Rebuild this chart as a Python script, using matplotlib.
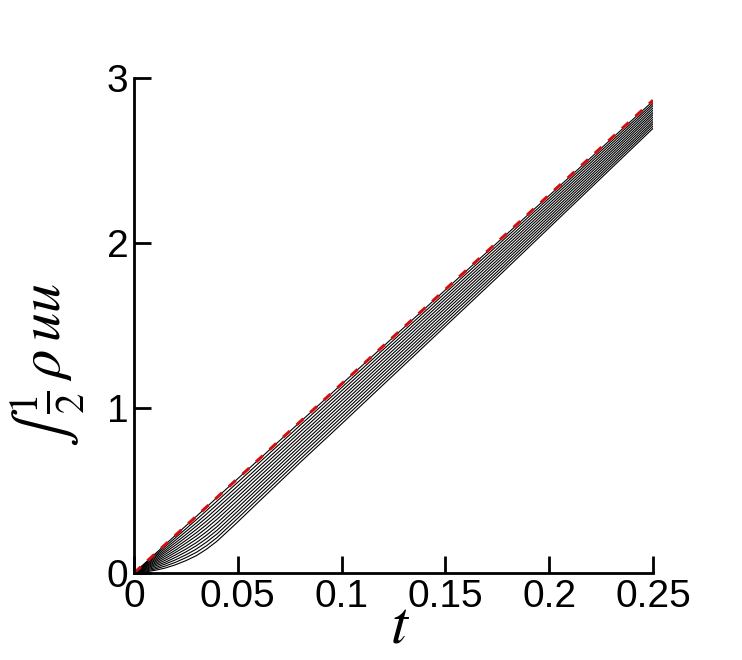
"""
Kinetic energy growth curves: integral of 1/2 rho u u versus time.
Writes out.png.
"""

import matplotlib.pyplot as plt

plt.rcParams["mathtext.fontset"] = "stix"

# sample times
t_vals = [0, 0.005, 0.01, 0.015, 0.02, 0.025, 0.03, 0.035, 0.04, 0.05,
          0.06, 0.08, 0.1, 0.125, 0.15, 0.175, 0.2, 0.225, 0.25]

# black curves, top to bottom
ke_01 = [0, 0.057, 0.114, 0.172, 0.229, 0.286, 0.343, 0.400, 0.458, 0.572, 0.686, 0.915, 1.144, 1.430, 1.716, 2.002, 2.288, 2.574, 2.860]
ke_02 = [0, 0.053, 0.106, 0.160, 0.214, 0.268, 0.323, 0.379, 0.436, 0.550, 0.665, 0.895, 1.124, 1.411, 1.698, 1.985, 2.272, 2.559, 2.846]
ke_03 = [0, 0.049, 0.098, 0.148, 0.199, 0.251, 0.303, 0.358, 0.414, 0.528, 0.643, 0.874, 1.104, 1.392, 1.679, 1.967, 2.256, 2.544, 2.833]
ke_04 = [0, 0.044, 0.090, 0.136, 0.184, 0.233, 0.284, 0.336, 0.392, 0.506, 0.622, 0.854, 1.084, 1.373, 1.661, 1.950, 2.239, 2.529, 2.819]
ke_05 = [0, 0.040, 0.081, 0.125, 0.169, 0.216, 0.264, 0.315, 0.370, 0.485, 0.601, 0.833, 1.064, 1.353, 1.643, 1.932, 2.223, 2.514, 2.805]
ke_06 = [0, 0.036, 0.073, 0.113, 0.154, 0.198, 0.244, 0.294, 0.348, 0.463, 0.580, 0.813, 1.044, 1.334, 1.624, 1.915, 2.207, 2.499, 2.791]
ke_07 = [0, 0.032, 0.065, 0.101, 0.139, 0.181, 0.224, 0.273, 0.326, 0.441, 0.558, 0.793, 1.024, 1.315, 1.606, 1.897, 2.191, 2.484, 2.778]
ke_08 = [0, 0.027, 0.057, 0.089, 0.125, 0.163, 0.204, 0.251, 0.303, 0.419, 0.537, 0.772, 1.004, 1.296, 1.588, 1.880, 2.174, 2.469, 2.764]
ke_09 = [0, 0.023, 0.049, 0.077, 0.110, 0.145, 0.184, 0.230, 0.281, 0.397, 0.516, 0.752, 0.984, 1.277, 1.569, 1.862, 2.158, 2.454, 2.750]
ke_10 = [0, 0.019, 0.041, 0.065, 0.095, 0.128, 0.165, 0.209, 0.259, 0.375, 0.495, 0.731, 0.964, 1.258, 1.551, 1.845, 2.142, 2.439, 2.736]
ke_11 = [0, 0.015, 0.032, 0.054, 0.080, 0.110, 0.145, 0.188, 0.237, 0.354, 0.473, 0.711, 0.944, 1.238, 1.533, 1.827, 2.126, 2.424, 2.723]
ke_12 = [0, 0.010, 0.024, 0.042, 0.065, 0.093, 0.125, 0.166, 0.215, 0.332, 0.452, 0.690, 0.924, 1.219, 1.514, 1.810, 2.109, 2.409, 2.709]
ke_13 = [0, 0.006, 0.016, 0.030, 0.050, 0.075, 0.105, 0.145, 0.193, 0.310, 0.431, 0.670, 0.904, 1.200, 1.496, 1.792, 2.093, 2.394, 2.695]

# red dashed reference
ref_t = [0, 0.25]
ref_ke = [0, 2.865]

x_ticks = [0, 0.05, 0.1, 0.15, 0.2, 0.25]
x_labels = ["0", "0.05", "0.1", "0.15", "0.2", "0.25"]
y_ticks = [0, 1, 2, 3]
y_labels = ["0", "1", "2", "3"]

curves = [ke_01, ke_02, ke_03, ke_04, ke_05, ke_06, ke_07,
          ke_08, ke_09, ke_10, ke_11, ke_12, ke_13]

fig = plt.figure(figsize=(7.42, 6.6), dpi=100)
ax = fig.add_axes([0.1806, 0.1318, 0.6995, 0.75])

for ke in curves:
    ax.plot(t_vals, ke, color="black", lw=0.8)
ax.plot(ref_t, ref_ke, color="#d01010", lw=2.2, linestyle=(0, (3, 3)))

ax.set_xlim(0, 0.25)
ax.set_ylim(0, 3)
ax.set_xticks(x_ticks)
ax.set_xticklabels(x_labels)
ax.set_yticks(y_ticks)
ax.set_yticklabels(y_labels)

for side in ["top", "right"]:
    ax.spines[side].set_visible(False)
for side in ["left", "bottom"]:
    ax.spines[side].set_linewidth(2)

ax.tick_params(direction="in", length=12, width=2, pad=4,
               labelsize=28)
for lab in ax.get_xticklabels() + ax.get_yticklabels():
    lab.set_family("Liberation Sans")

ax.set_xlabel(r"$t$", fontsize=44)
ax.xaxis.set_label_coords(0.513, -0.048)
ax.set_ylabel(r"$\int\,\frac{\mathit{1}}{\mathit{2}}\,\rho\, uu$", fontsize=42)
ax.yaxis.set_label_coords(-0.09, 0.42)

fig.savefig("out.png", dpi=100)
